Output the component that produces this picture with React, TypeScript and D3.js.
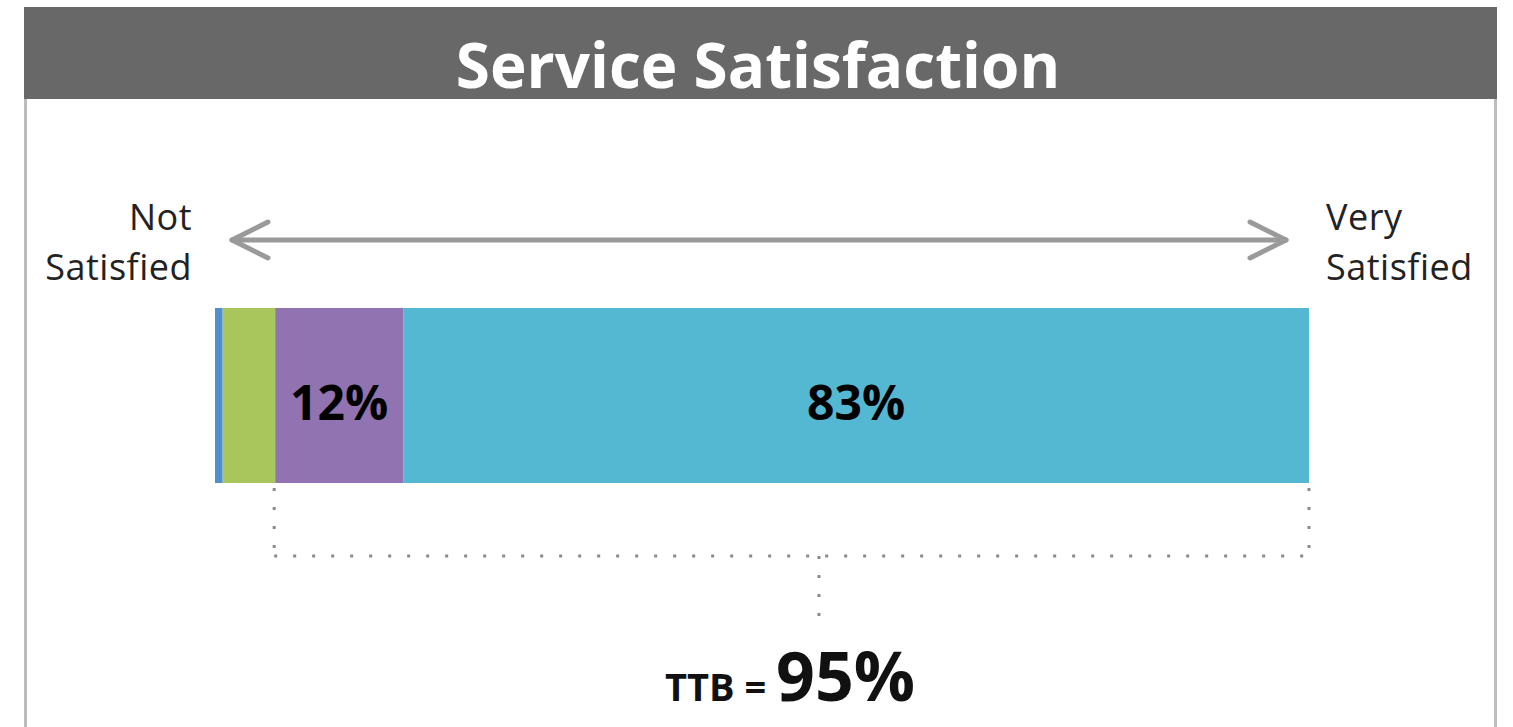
import React from "react";
import * as d3 from "d3";

const categories = ["Not satisfied", "Somewhat unsatisfied", "Satisfied", "Very satisfied"];
const values = [0.7, 4.8, 11.7, 82.8];
const labels = ["", "", "12%", "83%"];
const colors = ["#4e8ed2", "#a8c65c", "#9273b1", "#55b8d3"];
const title = "Service Satisfaction";
const ttbLabel = "TTB =";
const ttbValue = "95%";
const ttbFrom = 2; // bracket starts at the "Satisfied" segment

const W = 1513;
const H = 727;

export default function App() {
  const total = d3.sum(values);
  const x = d3.scaleLinear().domain([0, total]).range([215, 1309]);
  const starts = values.map((_, i) => d3.sum(values.slice(0, i)));
  const barTop = 308;
  const barBottom = 483;
  const bx0 = x(starts[ttbFrom]);
  const bx1 = x(total);
  const by = 556;
  const stemX = x(starts[ttbFrom] + (total - starts[ttbFrom]) * 0.526);
  const font = "'Open Sans', 'Noto Sans', sans-serif";
  const dot = { stroke: "#8a8a8a", strokeWidth: 3, strokeDasharray: "3 16", fill: "none" } as const;
  return (
    <svg width={W} height={H} style={{ position: "absolute", left: 0, top: 0 }}>
      <rect x={0} y={0} width={W} height={H} fill="#fff" />
      {/* panel border */}
      <line x1={25.5} y1={8} x2={25.5} y2={H} stroke="#bdbdbd" strokeWidth={3} />
      <line x1={1495.5} y1={8} x2={1495.5} y2={H} stroke="#bdbdbd" strokeWidth={3} />
      <rect x={24} y={7} width={1473} height={92} fill="#686868" />
      <text x={758} y={88} textAnchor="middle" fill="#fff" fontFamily={font} fontWeight={700} fontSize={62}>
        {title}
      </text>
      {/* arrow */}
      <g stroke="#9a9a9a" strokeWidth={5} fill="none" strokeLinecap="round" strokeLinejoin="round">
        <line x1={232} y1={240} x2={1286} y2={240} />
        <polyline points="268,222 232,240 268,258" />
        <polyline points="1250,222 1286,240 1250,258" />
      </g>
      <g fontFamily={font} fontSize={36} fill="#222" letterSpacing={0.5}>
        <text x={192} y={230} textAnchor="end">Not</text>
        <text x={192} y={280} textAnchor="end">Satisfied</text>
        <text x={1326} y={230}>Very</text>
        <text x={1326} y={280}>Satisfied</text>
      </g>
      {/* bar */}
      {values.map((v, i) => (
        <rect key={categories[i]} x={x(starts[i])} y={barTop} width={x(starts[i] + v) - x(starts[i])} height={barBottom - barTop} fill={colors[i]} />
      ))}
      {values.map((v, i) =>
        labels[i] ? (
          <text key={"l" + i} x={(x(starts[i]) + x(starts[i] + v)) / 2} y={420} textAnchor="middle" fontFamily={font} fontWeight={700} fontSize={48} fill="#000">
            {labels[i]}
          </text>
        ) : null
      )}
      {/* bracket */}
      <line x1={bx0 - 1} y1={barBottom + 5} x2={bx0 - 1} y2={by} {...dot} />
      <line x1={bx1} y1={barBottom + 5} x2={bx1} y2={by} {...dot} />
      <line x1={bx0 - 1} y1={by} x2={bx1} y2={by} {...dot} />
      <line x1={stemX} y1={by} x2={stemX} y2={630} {...dot} />
      <text x={790} y={701} textAnchor="middle" fontFamily={font} fontWeight={700} fill="#111">
        <tspan fontSize={38}>{ttbLabel} </tspan>
        <tspan fontSize={68}>{ttbValue}</tspan>
      </text>
    </svg>
  );
}
